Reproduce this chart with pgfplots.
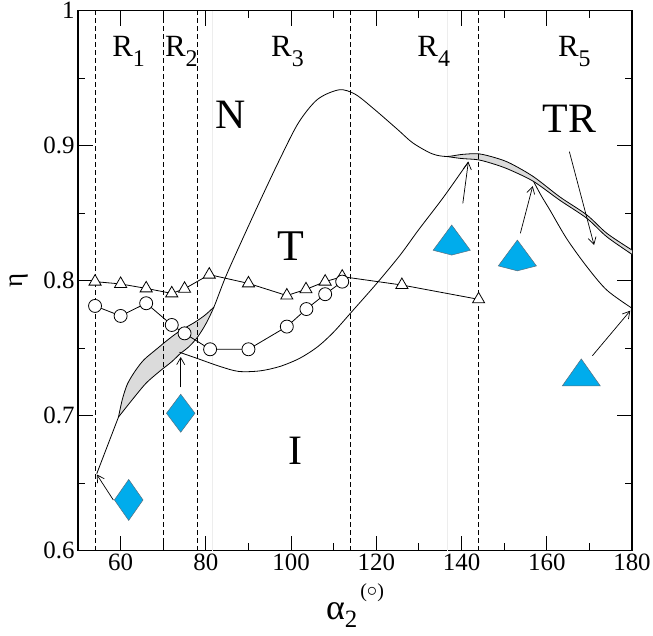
\documentclass[border=0pt]{standalone}
\usepackage{fontspec}
\setmainfont{Liberation Serif}
\usepackage{pgfplots}
\pgfplotsset{compat=1.18}
\usepgfplotslibrary{fillbetween}
\usetikzlibrary{arrows.meta}

\definecolor{markblue}{RGB}{0,172,236}
\definecolor{markedge}{RGB}{90,110,125}

% triangle with a notched (pointed) base, as in the reference
\pgfdeclareplotmark{kite}{%
  \pgfpathmoveto{\pgfpoint{0pt}{\pgfplotmarksize}}%
  \pgfpathlineto{\pgfpoint{-1.24\pgfplotmarksize}{-0.68\pgfplotmarksize}}%
  \pgfpathlineto{\pgfpoint{0pt}{-\pgfplotmarksize}}%
  \pgfpathlineto{\pgfpoint{1.24\pgfplotmarksize}{-0.68\pgfplotmarksize}}%
  \pgfpathclose
  \pgfusepathqfillstroke}

\tikzset{
  curve/.style={black, line width=0.8bp, smooth, tension=0.5},
  edge/.style={draw=none, smooth, tension=0.5},
  arr/.style={black, line width=0.7bp, -{Straight Barb[length=7bp,width=8bp]}},
  vdash/.style={black, line width=0.8bp, dash pattern=on 5bp off 3bp},
}
\pgfplotsset{
  bluemark/.style={only marks, mark options={fill=markblue, draw=markedge, line width=0.5bp, solid, #1}},
  bluemark/.default={},
}
\newcommand\reg[1]{\fontsize{31}{31}\selectfont R\raisebox{-10bp}{\fontsize{24}{24}\selectfont #1}}

\begin{document}
\begin{tikzpicture}
\begin{axis}[
  width=554bp, height=540bp, scale only axis,
  xmin=50, xmax=180, ymin=0.6, ymax=1,
  xtick={60,80,...,180}, minor x tick num=1,
  ytick={0.6,0.7,0.8,0.9,1}, yticklabels={0.6,0.7,0.8,0.9,1},
  minor y tick num=1,
  tick align=inside,
  major tick length=15bp, minor tick length=7.5bp,
  axis line style={line width=1.4bp},
  every tick/.style={black, line width=1bp},
  ticklabel style={font=\fontsize{25}{25}\selectfont},
  /pgf/number format/assume math mode=true,
  xlabel={\fontsize{36}{36}\selectfont α\raisebox{-8bp}{\fontsize{25}{25}\selectfont 2}\hspace{3bp}\raisebox{22bp}{\fontsize{20}{20}\selectfont (\raisebox{1bp}{$\circ$})}},
  xlabel style={at={(axis description cs:0.5,-0.127)}, anchor=base},
  ylabel={\fontsize{27}{27}\selectfont η},
  ylabel style={at={(axis description cs:-0.106,0.5)}, anchor=center},
]
\coordinate (sw) at (rel axis cs:0,0);
\coordinate (ne) at (rel axis cs:1,1);

% faint guide lines
\addplot[black!7, line width=0.5bp] coordinates {(81.4,0.6) (81.4,1)};
\addplot[black!7, line width=0.5bp] coordinates {(136.7,0.6) (136.7,1)};

% edges of the two shaded regions (for the fills only)
\addplot[edge, name path=lensU] coordinates {
(59.5,0.699) (60.4,0.712) (61.6,0.7235) (63.5,0.7335) (65.5,0.7415) (68.5,0.7495)
(71.2,0.7565) (74,0.7630) (77.3,0.7690) (79.8,0.7745) (81.9,0.7805)};
\addplot[edge, name path=lensL] coordinates {
(59.5,0.699) (61,0.705) (63.8,0.716) (66.1,0.7245) (69.2,0.733) (72,0.740)
(74,0.746) (76,0.751) (78,0.758) (80,0.768) (81.9,0.7805)};
\addplot[edge, name path=bandU] coordinates {
(136.5,0.892) (140,0.8935) (144,0.894) (148,0.891)
(151.4,0.887) (156.9,0.877) (163.1,0.862) (169.4,0.8487) (174.1,0.8351) (180,0.8227)};
\addplot[edge, name path=bandL] coordinates {
(136.5,0.892) (140,0.8905) (144,0.8895) (148,0.886) (151.4,0.882) (156.9,0.8735)
(163.1,0.8595) (169.4,0.8462) (174.1,0.8325) (180,0.8195)};

\addplot[fill=gray!28, draw=none] fill between[of=lensU and lensL];
\addplot[fill=gray!28, draw=none] fill between[of=bandU and bandL];

% boundaries
\addplot[curve] coordinates {
(59.5,0.699) (60.4,0.712) (61.6,0.7235) (63.5,0.7335) (65.5,0.7415) (68.5,0.7495)
(71.2,0.7565) (74,0.7630) (77.3,0.7690) (79.8,0.7745) (81.9,0.7805)};

\addplot[curve] coordinates {
(59.5,0.699) (61,0.705) (63.8,0.716) (66.1,0.7245) (69.2,0.733) (72,0.740)
(74,0.746) (76,0.751) (78,0.758) (80,0.768) (81.9,0.7805) (84.6,0.8025)
(88.2,0.828) (92.7,0.859) (97.2,0.889) (101.7,0.9168) (106.2,0.9343)
(111.3,0.9414) (115.1,0.938) (119.6,0.9268) (125,0.912) (128.6,0.902)
(133.1,0.894) (136.5,0.892) (140,0.8935) (144,0.894) (148,0.891)
(151.4,0.887) (156.9,0.877) (163.1,0.862) (169.4,0.8487) (174.1,0.8351) (180,0.8227)};

\addplot[curve] coordinates {
(136.5,0.892) (140,0.8905) (144,0.8895) (148,0.886) (151.4,0.882) (156.9,0.8735)
(163.1,0.8595) (169.4,0.8462) (174.1,0.8325) (180,0.8195)};

\addplot[curve] coordinates {(54.4,0.657) (59.5,0.699)};

\addplot[curve] coordinates {
(73.8,0.747) (77.9,0.7425) (83.3,0.7365) (87.7,0.7328) (92.7,0.7332) (97.4,0.7365)
(102,0.7425) (106.2,0.751) (110,0.762) (114.6,0.7783) (120.1,0.798) (125.6,0.819)
(129.9,0.8376) (135.8,0.862) (141.6,0.888)};

\addplot[curve] coordinates {
(156.9,0.8735) (158.7,0.863) (160.8,0.852) (164.7,0.831) (169.4,0.8104)
(174.1,0.793) (180,0.7796)};

% region borders
\addplot[vdash] coordinates {(54,0.6) (54,1)};
\addplot[vdash] coordinates {(70,0.6) (70,1)};
\addplot[vdash] coordinates {(78,0.6) (78,1)};
\addplot[vdash] coordinates {(114,0.6) (114,1)};
\addplot[vdash] coordinates {(144,0.6) (144,1)};

% measured series
\addplot[black, line width=0.8bp, mark=triangle*, mark size=7bp,
  mark options={fill=white, line width=0.8bp}] coordinates {
(54,0.7993) (60,0.7976) (66,0.7943) (72,0.7906) (75,0.794) (80.8,0.8045)
(90,0.798) (99,0.789) (103.5,0.7936) (108,0.7993) (112,0.803) (126,0.7968) (144,0.7862)};

\addplot[black, line width=0.8bp, mark=*, mark size=6.5bp,
  mark options={fill=white, line width=0.8bp}] coordinates {
(54,0.7813) (60,0.7739) (66,0.7833) (72,0.7672) (75,0.761) (81,0.7492)
(90,0.7492) (99,0.766) (103.6,0.779) (108,0.790) (112,0.7993)};

% arrows
\addplot[arr] coordinates {(58.3,0.6375) (54.4,0.6565)};
\addplot[arr] coordinates {(74.1,0.721) (74.1,0.7435)};
\addplot[arr] coordinates {(140.3,0.8573) (141.6,0.8881)};
\addplot[arr] coordinates {(153.8,0.8351) (156.7,0.8701)};
\addplot[arr] coordinates {(165.3,0.8956) (171.1,0.8264)};
\addplot[arr] coordinates {(170.7,0.7444) (179.6,0.7778)};

% blue symbols
\addplot[bluemark, mark=diamond*, mark size=19bp] coordinates {(74.1,0.7018)};
\addplot[bluemark={xscale=0.93}, mark=diamond*, mark size=20.5bp] coordinates {(61.9,0.6376)};
\addplot[bluemark, mark=kite, mark size=15bp] coordinates {(137.7,0.8301)};
\addplot[bluemark, mark=kite, mark size=15.4bp] coordinates {(153.1,0.8187)};
\addplot[bluemark={yscale=0.82}, mark=triangle*, mark size=22bp] coordinates {(168.1,0.7287)};

% labels
\node[anchor=base west, inner sep=0pt] at (axis cs:58.0,0.9664) {\reg{1}};
\node[anchor=base west, inner sep=0pt] at (axis cs:70.4,0.9664) {\reg{2}};
\node[anchor=base west, inner sep=0pt] at (axis cs:95.3,0.9664) {\reg{3}};
\node[anchor=base west, inner sep=0pt] at (axis cs:129.6,0.9664) {\reg{4}};
\node[anchor=base west, inner sep=0pt] at (axis cs:162.6,0.9664) {\reg{5}};

\node[inner sep=0pt] at (axis cs:85.7,0.9227) {\fontsize{42}{42}\selectfont N};
\node[inner sep=0pt] at (axis cs:165.3,0.9198) {\fontsize{42}{42}\selectfont TR};
\node[inner sep=0pt] at (axis cs:99.9,0.8253) {\fontsize{44}{44}\selectfont T};
\node[inner sep=0pt] at (axis cs:101.1,0.6742) {\fontsize{42}{42}\selectfont I};
\end{axis}
\pgfresetboundingbox
\useasboundingbox ([shift={(-78bp,-85bp)}]sw) rectangle ([shift={(21bp,10.7bp)}]ne);
\end{tikzpicture}
\end{document}
